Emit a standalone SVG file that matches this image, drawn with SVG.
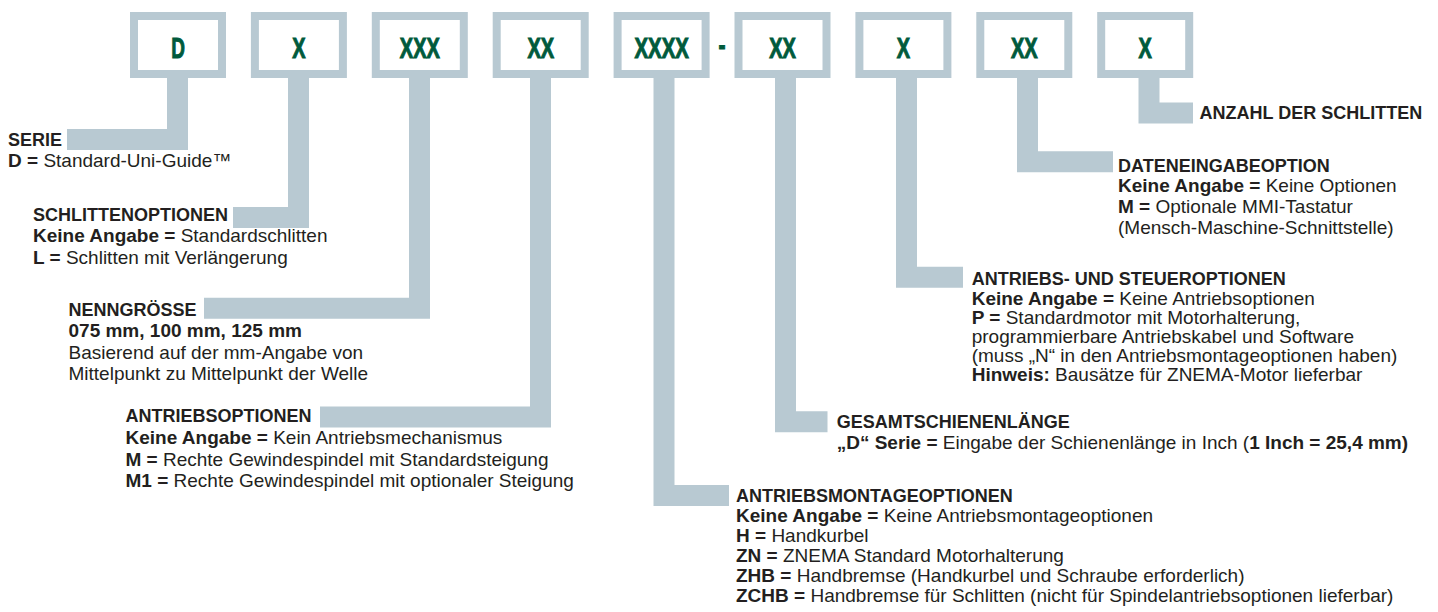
<svg xmlns="http://www.w3.org/2000/svg" width="1438" height="612" viewBox="0 0 1438 612">
<style>
.box{fill:#ffffff;stroke:#b8c9d2;stroke-width:8}
.code{font-family:"Liberation Sans",Arial,sans-serif;font-weight:bold;font-size:30px;fill:#005a3c;stroke:#005a3c;stroke-width:1.1}
.bar{fill:none;stroke:#b8c9d2;stroke-width:21;stroke-linecap:butt;stroke-linejoin:miter}
.h{font-family:"Liberation Sans",Arial,sans-serif;font-weight:bold;font-size:18px;fill:#231f20}
.t{font-family:"Liberation Sans",Arial,sans-serif;font-size:19px;fill:#231f20}
.b{font-weight:bold}
</style>
<rect width="1438" height="612" fill="#ffffff"/>
<g id="connectors">
<polyline class="bar" points="177.5,78 177.5,139.5 67,139.5"/>
<polyline class="bar" points="298.5,78 298.5,217.5 233,217.5"/>
<polyline class="bar" points="419.5,78 419.5,308.3 204,308.3"/>
<polyline class="bar" points="540.5,78 540.5,417 320,417"/>
<polyline class="bar" points="664,78 664,495.5 729,495.5"/>
<polyline class="bar" points="785.5,78 785.5,421.7 827.5,421.7"/>
<polyline class="bar" points="906.5,78 906.5,277.2 963,277.2"/>
<polyline class="bar" points="1027.5,78 1027.5,161.7 1113,161.7"/>
<polyline class="bar" points="1149,78 1149,113 1193,113"/>
</g>
<g id="box-d"><rect class="box" x="134" y="16" width="88" height="58"/><text class="code" x="171.2" y="58.3" textLength="13.7" lengthAdjust="spacingAndGlyphs">D</text></g>
<g id="box-x1"><rect class="box" x="254.9" y="16" width="88" height="58"/><text class="code" x="292.3" y="58.3" textLength="13.3" lengthAdjust="spacingAndGlyphs">X</text></g>
<g id="box-xxx"><rect class="box" x="375.8" y="16" width="88" height="58"/><text class="code" x="399.8" y="58.3" textLength="40" lengthAdjust="spacingAndGlyphs">XXX</text></g>
<g id="box-xx1"><rect class="box" x="496.7" y="16" width="88" height="58"/><text class="code" x="527.4" y="58.3" textLength="26.7" lengthAdjust="spacingAndGlyphs">XX</text></g>
<g id="box-xxxx"><rect class="box" x="617.6" y="16" width="88" height="58"/><text class="code" x="634.5" y="58.3" textLength="54.3" lengthAdjust="spacingAndGlyphs">XXXX</text></g>
<g id="dash"><text class="code" x="718.5" y="55" textLength="7" lengthAdjust="spacingAndGlyphs">-</text></g>
<g id="box-xx2"><rect class="box" x="738.5" y="16" width="88" height="58"/><text class="code" x="769.2" y="58.3" textLength="26.7" lengthAdjust="spacingAndGlyphs">XX</text></g>
<g id="box-x2"><rect class="box" x="859.4" y="16" width="88" height="58"/><text class="code" x="896.8" y="58.3" textLength="13.3" lengthAdjust="spacingAndGlyphs">X</text></g>
<g id="box-xx3"><rect class="box" x="980.3" y="16" width="88" height="58"/><text class="code" x="1011" y="58.3" textLength="26.7" lengthAdjust="spacingAndGlyphs">XX</text></g>
<g id="box-x3"><rect class="box" x="1101.2" y="16" width="88" height="58"/><text class="code" x="1138.6" y="58.3" textLength="13.3" lengthAdjust="spacingAndGlyphs">X</text></g>

<g id="serie">
<text class="h" x="8" y="146">SERIE</text>
<text class="t" x="8" y="167"><tspan class="b">D =</tspan> Standard-Uni-Guide™</text>
</g>
<g id="schlittenoptionen">
<text class="h" x="33" y="220.7">SCHLITTENOPTIONEN</text>
<text class="t" x="33" y="242.3"><tspan class="b">Keine Angabe =</tspan> Standardschlitten</text>
<text class="t" x="33" y="264"><tspan class="b">L =</tspan> Schlitten mit Verlängerung</text>
</g>
<g id="nenngroesse">
<text class="h" x="68.5" y="316">NENNGRÖSSE</text>
<text class="t b" x="68.5" y="337">075 mm, 100 mm, 125 mm</text>
<text class="t" x="68.5" y="358.5">Basierend auf der mm-Angabe von</text>
<text class="t" x="68.5" y="380">Mittelpunkt zu Mittelpunkt der Welle</text>
</g>
<g id="antriebsoptionen">
<text class="h" x="125.5" y="422">ANTRIEBSOPTIONEN</text>
<text class="t" x="125.5" y="444"><tspan class="b">Keine Angabe =</tspan> Kein Antriebsmechanismus</text>
<text class="t" x="125.5" y="465.5"><tspan class="b">M =</tspan> Rechte Gewindespindel mit Standardsteigung</text>
<text class="t" x="125.5" y="487"><tspan class="b">M1 =</tspan> Rechte Gewindespindel mit optionaler Steigung</text>
</g>
<g id="antriebsmontageoptionen">
<text class="h" x="736" y="502">ANTRIEBSMONTAGEOPTIONEN</text>
<text class="t" x="736" y="522"><tspan class="b">Keine Angabe =</tspan> Keine Antriebsmontageoptionen</text>
<text class="t" x="736" y="542"><tspan class="b">H =</tspan> Handkurbel</text>
<text class="t" x="736" y="562"><tspan class="b">ZN =</tspan> ZNEMA Standard Motorhalterung</text>
<text class="t" x="736" y="582"><tspan class="b">ZHB =</tspan> Handbremse (Handkurbel und Schraube erforderlich)</text>
<text class="t" x="736" y="602"><tspan class="b">ZCHB =</tspan> Handbremse für Schlitten (nicht für Spindelantriebsoptionen lieferbar)</text>
</g>
<g id="gesamtschienenlaenge">
<text class="h" x="836.7" y="428.3">GESAMTSCHIENENLÄNGE</text>
<text class="t" x="836.7" y="449.3"><tspan class="b">„D“ Serie =</tspan> Eingabe der Schienenlänge in Inch (<tspan class="b">1 Inch = 25,4 mm)</tspan></text>
</g>
<g id="antriebs-steueroptionen">
<text class="h" x="971.7" y="285">ANTRIEBS- UND STEUEROPTIONEN</text>
<text class="t" x="971.7" y="304.5"><tspan class="b">Keine Angabe =</tspan> Keine Antriebsoptionen</text>
<text class="t" x="971.7" y="324"><tspan class="b">P =</tspan> Standardmotor mit Motorhalterung,</text>
<text class="t" x="971.7" y="343">programmierbare Antriebskabel und Software</text>
<text class="t" x="971.7" y="362">(muss „N“ in den Antriebsmontageoptionen haben)</text>
<text class="t" x="971.7" y="381"><tspan class="b">Hinweis:</tspan> Bausätze für ZNEMA-Motor lieferbar</text>
</g>
<g id="dateneingabeoption">
<text class="h" x="1118" y="171.5">DATENEINGABEOPTION</text>
<text class="t" x="1118" y="192"><tspan class="b">Keine Angabe =</tspan> Keine Optionen</text>
<text class="t" x="1118" y="212.5"><tspan class="b">M =</tspan> Optionale MMI-Tastatur</text>
<text class="t" x="1118" y="233.5">(Mensch-Maschine-Schnittstelle)</text>
</g>
<g id="anzahl">
<text class="h" x="1199.5" y="118.5">ANZAHL DER SCHLITTEN</text>
</g>
</svg>
